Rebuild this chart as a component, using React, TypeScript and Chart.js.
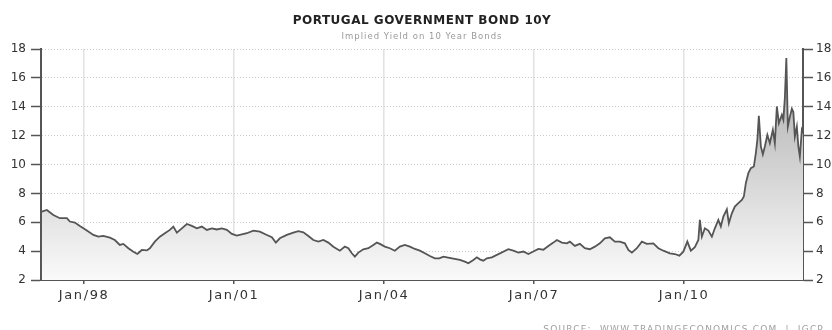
import React, { useEffect, useRef } from 'react';
import { Chart, registerables } from 'chart.js';

Chart.register(...registerables);

// Decimal years of each reading
const years: number[] = [
  1997.17, 1997.27, 1997.40, 1997.53, 1997.67, 1997.73, 1997.83, 1997.93,
  1998.07, 1998.20, 1998.30, 1998.40, 1998.53, 1998.63, 1998.73, 1998.80, 1998.90,
  1999.00, 1999.08, 1999.17, 1999.27, 1999.33, 1999.43, 1999.53, 1999.63, 1999.73, 1999.80, 1999.87, 1999.97,
  2000.07, 2000.17, 2000.27, 2000.37, 2000.47, 2000.57, 2000.67, 2000.77, 2000.87, 2000.97,
  2001.07, 2001.27, 2001.40, 2001.53, 2001.67, 2001.77, 2001.85, 2001.93,
  2002.07, 2002.20, 2002.30, 2002.40, 2002.50, 2002.60, 2002.70, 2002.80, 2002.90,
  2003.00, 2003.13, 2003.23, 2003.30, 2003.37, 2003.43, 2003.50, 2003.60, 2003.70, 2003.80, 2003.87, 2003.93,
  2004.03, 2004.13, 2004.23, 2004.33, 2004.43, 2004.53, 2004.63, 2004.73, 2004.83, 2004.93,
  2005.03, 2005.12, 2005.20, 2005.27, 2005.53, 2005.63, 2005.70, 2005.80, 2005.87, 2005.93,
  2006.00, 2006.07, 2006.17, 2006.50, 2006.60, 2006.70, 2006.80, 2006.90,
  2007.00, 2007.10, 2007.20, 2007.30, 2007.40, 2007.47, 2007.57, 2007.67, 2007.73, 2007.83, 2007.93,
  2008.03, 2008.13, 2008.23, 2008.33, 2008.43, 2008.53, 2008.63, 2008.73, 2008.83, 2008.90, 2008.97,
  2009.07, 2009.17, 2009.27, 2009.40, 2009.50, 2009.60, 2009.73, 2009.83, 2009.92,
  2010.00, 2010.08, 2010.15, 2010.23, 2010.30, 2010.33, 2010.37, 2010.43, 2010.50, 2010.57, 2010.63,
  2010.70, 2010.75, 2010.80, 2010.87, 2010.91, 2010.97,
  2011.03, 2011.10, 2011.17, 2011.21, 2011.25, 2011.30, 2011.35, 2011.41, 2011.45, 2011.48, 2011.51,
  2011.55, 2011.59, 2011.63, 2011.68, 2011.73, 2011.79, 2011.83, 2011.87, 2011.91, 2011.97,
  2012.00, 2012.03, 2012.06, 2012.09, 2012.13, 2012.17, 2012.20, 2012.23, 2012.27, 2012.30, 2012.33, 2012.37, 2012.40,
];

// Implied yield, percent
const yields: number[] = [
  6.74, 6.85, 6.50, 6.28, 6.28, 6.05, 5.98, 5.74,
  5.42, 5.12, 5.00, 5.05, 4.93, 4.77, 4.43, 4.50, 4.20,
  3.96, 3.80, 4.08, 4.05, 4.20, 4.66, 5.00, 5.24, 5.47, 5.70, 5.28, 5.58,
  5.88, 5.75, 5.58, 5.70, 5.47, 5.58, 5.50, 5.58, 5.47, 5.19,
  5.07, 5.24, 5.42, 5.35, 5.12, 4.96, 4.59, 4.89,
  5.12, 5.28, 5.38, 5.30, 5.05, 4.77, 4.66, 4.77, 4.59,
  4.31, 4.03, 4.31, 4.20, 3.85, 3.62, 3.90, 4.13, 4.20, 4.43, 4.59, 4.50,
  4.31, 4.20, 4.03, 4.31, 4.43, 4.31, 4.15, 4.03, 3.85, 3.66,
  3.50, 3.50, 3.62, 3.57, 3.39, 3.27, 3.16, 3.39, 3.57, 3.43,
  3.34, 3.50, 3.57, 4.13, 4.03, 3.90, 3.97, 3.80,
  3.97, 4.15, 4.10, 4.36, 4.59, 4.77, 4.59, 4.54, 4.66, 4.36, 4.50,
  4.20, 4.13, 4.31, 4.54, 4.89, 4.96, 4.66, 4.66, 4.54, 4.08, 3.90,
  4.20, 4.66, 4.50, 4.54, 4.20, 4.03, 3.85, 3.80, 3.69,
  3.96, 4.66, 4.03, 4.27, 4.77, 6.16, 5.00, 5.58, 5.42, 5.00, 5.58,
  6.16, 5.70, 6.39, 6.90, 5.93, 6.62,
  7.09, 7.32, 7.55, 7.78, 8.71, 9.40, 9.75, 9.86, 10.79, 11.71, 13.37,
  11.25, 10.70, 11.25, 12.06, 11.48, 12.40, 11.48, 14.02, 12.86, 13.44,
  13.10, 14.60, 17.37, 12.63, 13.30, 13.86, 13.63, 11.94, 12.63, 11.25, 10.55, 12.40, 12.17,
];

const xTickYears: number[] = [1998, 2001, 2004, 2007, 2010];
const xTickLabels: string[] = ['Jan/98', 'Jan/01', 'Jan/04', 'Jan/07', 'Jan/10'];
const yTickValues: number[] = [2, 4, 6, 8, 10, 12, 14, 16, 18];
const X_MIN = 1997.153;
const X_MAX = 2012.393;

const TITLE = 'PORTUGAL GOVERNMENT BOND 10Y';
const SUBTITLE = 'Implied Yield on 10 Year Bonds';
const SOURCE = 'SOURCE:  WWW.TRADINGECONOMICS.COM  |  IGCP';

const FONT = '"DejaVu Sans", Verdana, sans-serif';

const textPlugin = {
  id: 'texts',
  beforeDraw(chart: any) {
    const s: any = chart.scales.x;
    if (s && !s.__wrapped) {
      const orig = s.drawLabels;
      s.drawLabels = function (area: any) {
        const ctx = this.ctx;
        ctx.save();
        (ctx as any).letterSpacing = '1.6px';
        ctx.translate(0.8, 0);
        orig.call(this, area);
        ctx.restore();
      };
      s.__wrapped = true;
    }
  },
  afterDraw(chart: any) {
    const ctx = chart.ctx as CanvasRenderingContext2D;
    const ca = chart.chartArea;
    const cx = (ca.left + ca.right) / 2;
    ctx.save();
    ctx.textAlign = 'center';
    ctx.textBaseline = 'alphabetic';
    (ctx as any).letterSpacing = '0.5px';
    ctx.fillStyle = '#222222';
    ctx.font = `bold 12px ${FONT}`;
    ctx.fillText(TITLE, cx, 24);
    (ctx as any).letterSpacing = '1px';
    ctx.fillStyle = '#9a9a9a';
    ctx.font = `8.5px ${FONT}`;
    ctx.fillText(SUBTITLE, cx, 38.5);
    ctx.textAlign = 'right';
    (ctx as any).letterSpacing = '1.2px';
    ctx.fillStyle = '#a0a0a0';
    ctx.font = `9px ${FONT}`;
    ctx.fillText(SOURCE, 824, 332);
    ctx.restore();
  },
};

export default function App() {
  const ref = useRef<HTMLCanvasElement | null>(null);

  useEffect(() => {
    if (!ref.current) return;
    const chart = new Chart(ref.current, {
      type: 'line',
      data: {
        datasets: [
          {
            data: years.map((x, i) => ({ x, y: yields[i] })),
            borderColor: '#555555',
            borderWidth: 1.8,
            pointRadius: 0,
            tension: 0,
            fill: 'start',
            backgroundColor: (c: any) => {
              const ch = c.chart;
              const a = ch.chartArea;
              if (!a) return '#dddddd';
              const g = ch.ctx.createLinearGradient(0, a.top, 0, a.bottom);
              g.addColorStop(0, '#a8a8a8');
              g.addColorStop(1, '#fafafa');
              return g;
            },
          },
        ],
      },
      options: {
        responsive: false,
        animation: false,
        layout: { padding: { top: 49, left: 0, right: 0, bottom: 0 } },
        plugins: {
          legend: { display: false },
          title: { display: false },
          tooltip: { enabled: false },
        },
        scales: {
          x: {
            type: 'linear',
            min: X_MIN,
            max: X_MAX,
            afterBuildTicks: (s: any) => {
              s.ticks = xTickYears.map((v) => ({ value: v }));
            },
            afterFit: (s: any) => {
              s.height = 50;
            },
            ticks: {
              callback: (_v: any, i: number) => xTickLabels[i],
              color: '#333333',
              font: { family: FONT, size: 13 },
              padding: 4,
              maxRotation: 0,
              autoSkip: false,
            },
            grid: {
              color: '#e2e2e2',
              lineWidth: 1.5,
              tickColor: '#555555',
              tickLength: 4,
              tickWidth: 1.5,
            },
            border: { color: '#555555', width: 2 },
          },
          y: {
            position: 'left',
            min: 2,
            max: 18,
            afterBuildTicks: (s: any) => {
              s.ticks = yTickValues.map((v) => ({ value: v }));
            },
            afterFit: (s: any) => {
              s.width = 41;
            },
            ticks: {
              color: '#333333',
              font: { family: FONT, size: 12 },
              padding: 5,
            },
            grid: {
              color: '#cccccc',
              lineWidth: 1,
              tickColor: '#555555',
              tickLength: 10,
              tickWidth: 1.5,
            },
            border: { color: '#555555', width: 2, dash: [1, 2] },
          },
          y2: {
            position: 'right',
            min: 2,
            max: 18,
            afterBuildTicks: (s: any) => {
              s.ticks = yTickValues.map((v) => ({ value: v }));
            },
            afterFit: (s: any) => {
              s.width = 29;
            },
            ticks: {
              color: '#333333',
              font: { family: FONT, size: 12 },
              padding: 3,
            },
            grid: {
              drawOnChartArea: false,
              color: '#555555',
              tickColor: '#555555',
              tickLength: 10,
              tickWidth: 1.5,
            },
            border: { color: '#555555', width: 2 },
          },
        },
      },
      plugins: [textPlugin],
    });
    return () => chart.destroy();
  }, []);

  return (
    <div style={{ position: 'fixed', left: 0, top: 0, width: 832, height: 330, background: '#ffffff' }}>
      <canvas ref={ref} width={832} height={330} style={{ display: 'block' }} />
    </div>
  );
}
